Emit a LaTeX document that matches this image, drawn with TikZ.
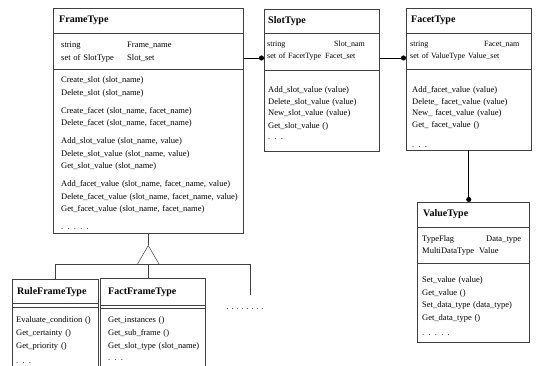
\documentclass[tikz,border=0pt]{standalone}
\usepackage{fontspec}
\setmainfont{Liberation Serif}
\usetikzlibrary{positioning,arrows.meta}

\tikzset{
  classbox/.style={draw=black!75, line width=0.5pt, fill=white, anchor=north west, inner sep=0pt},
  classname/.style={anchor=west, font=\fontsize{10}{12}\selectfont\bfseries, inner sep=0pt},
  members/.style={anchor=base west, font=\fontsize{8.5}{12.5}\selectfont, text width=#1, align=left, inner sep=0pt},
  tightrows/.style={font=\fontsize{8.5}{11.5}\selectfont},
  smallrows/.style={font=\fontsize{8}{11.5}\selectfont},
  link/.style={draw=black!75, line width=0.5pt},
  hasdot/.style={line width=0.9pt, -{Circle[length=5pt]}},
}
\newcommand{\attrrow}[3]{\makebox[#1][l]{#2}#3}

\begin{document}
\begin{tikzpicture}[x=1pt,y=1pt]
    \useasboundingbox (0,0) rectangle (536,-366);
    \clip (0,0) rectangle (536,-366);

    % FrameType
    \node[classbox, minimum width=190pt, minimum height=225pt] (frame) at (53,-8) {};
    \node[classname] (frametitle) at ([xshift=6pt,yshift=-12.5pt]frame.north west) {FrameType};
    \draw[link] ([yshift=-25pt]frame.north west) -- ([yshift=-25pt]frame.north east);
    \draw[link] ([yshift=-61pt]frame.north west) -- ([yshift=-61pt]frame.north east);
    \node[members=180pt] (frameattr) at ([xshift=8pt,yshift=-40pt]frame.north west) {%
\attrrow{66pt}{string}{Frame\_name}\\
\attrrow{66pt}{set of SlotType}{Slot\_set}};
    \node[members=180pt] (frameops) at ([xshift=8pt,yshift=-75pt]frame.north west) {%
Create\_slot (slot\_name)\\
Delete\_slot (slot\_name)\\[5.5pt]
Create\_facet (slot\_name, facet\_name)\\
Delete\_facet (slot\_name, facet\_name)\\[5.5pt]
Add\_slot\_value (slot\_name, value)\\
Delete\_slot\_value (slot\_name, value)\\
Get\_slot\_value (slot\_name)\\[5.5pt]
Add\_facet\_value (slot\_name, facet\_name, value)\\
Delete\_facet\_value (slot\_name, facet\_name, value)\\
Get\_facet\_value (slot\_name, facet\_name)\\[5.5pt]
. . . . .};

    % SlotType
    \node[classbox, minimum width=115pt, minimum height=142pt] (slot) at (264,-9) {};
    \node[classname] (slottitle) at ([xshift=4pt,yshift=-12pt]slot.north west) {SlotType};
    \draw[link] ([yshift=-24pt]slot.north west) -- ([yshift=-24pt]slot.north east);
    \draw[link] ([yshift=-61pt]slot.north west) -- ([yshift=-61pt]slot.north east);
    \node[members=110pt, smallrows] (slotattr) at ([xshift=3pt,yshift=-38pt]slot.north west) {%
\attrrow{67pt}{string}{Slot\_nam}\\
\attrrow{58pt}{set of FacetType}{Facet\_set}};
    \node[members=110pt, tightrows] (slotops) at ([xshift=4pt,yshift=-84pt]slot.north west) {%
Add\_slot\_value (value)\\
Delete\_slot\_value (value)\\
New\_slot\_value (value)\\[1pt]
Get\_slot\_value ()\\
. . .};

    % FacetType
    \node[classbox, minimum width=125pt, minimum height=142pt] (facet) at (406,-8) {};
    \node[classname] (facettitle) at ([xshift=5pt,yshift=-12.5pt]facet.north west) {FacetType};
    \draw[link] ([yshift=-25pt]facet.north west) -- ([yshift=-25pt]facet.north east);
    \draw[link] ([yshift=-61pt]facet.north west) -- ([yshift=-61pt]facet.north east);
    \node[members=120pt, smallrows] (facetattr) at ([xshift=4pt,yshift=-39pt]facet.north west) {%
\attrrow{74pt}{string}{Facet\_nam}\\
\attrrow{58pt}{set of ValueType}{Value\_set}};
    \node[members=120pt, tightrows] (facetops) at ([xshift=6pt,yshift=-85pt]facet.north west) {%
Add\_facet\_value (value)\\
Delete\_ facet\_value (value)\\
New\_ facet\_value (value)\\
Get\_ facet\_value ()\\[9pt]
. . .};

    % ValueType
    \node[classbox, minimum width=112pt, minimum height=140pt] (value) at (417,-202) {};
    \node[classname] (valuetitle) at ([xshift=6pt,yshift=-12pt]value.north west) {ValueType};
    \draw[link] ([yshift=-25pt]value.north west) -- ([yshift=-25pt]value.north east);
    \draw[link] ([yshift=-61pt]value.north west) -- ([yshift=-61pt]value.north east);
    \node[members=106pt, tightrows] (valueattr) at ([xshift=5pt,yshift=-40pt]value.north west) {%
\attrrow{64pt}{TypeFlag}{Data\_type}\\
\attrrow{57pt}{MultiDataType}{Value}};
    \node[members=106pt] (valueops) at ([xshift=5pt,yshift=-81pt]value.north west) {%
Set\_value (value)\\
Get\_value ()\\
Set\_data\_type (data\_type)\\
Get\_data\_type ()\\[3pt]
. . . . .};

    % RuleFrameType
    \node[classbox, minimum width=86pt, minimum height=95pt] (rule) at (12,-279) {};
    \node[classname] (ruletitle) at ([xshift=5pt,yshift=-13pt]rule.north west) {RuleFrameType};
    \draw[link] ([yshift=-24pt]rule.north west) -- ([yshift=-24pt]rule.north east);
    \draw[link] ([yshift=-28pt]rule.north west) -- ([yshift=-28pt]rule.north east);
    \node[members=82pt, font=\fontsize{8.5}{13}\selectfont] (ruleops) at ([xshift=4pt,yshift=-44pt]rule.north west) {%
Evaluate\_condition ()\\
Get\_certainty ()\\
Get\_priority ()\\[2pt]
. . .};

    % FactFrameType
    \node[classbox, minimum width=105pt, minimum height=95pt] (fact) at (100,-278) {};
    \node[classname] (facttitle) at ([xshift=8pt,yshift=-14pt]fact.north west) {FactFrameType};
    \draw[link] ([yshift=-27pt]fact.north west) -- ([yshift=-27pt]fact.north east);
    \draw[link] ([yshift=-30pt]fact.north west) -- ([yshift=-30pt]fact.north east);
    \node[members=100pt, font=\fontsize{8.5}{13}\selectfont] (factops) at ([xshift=8pt,yshift=-45pt]fact.north west) {%
Get\_instances ()\\
Get\_sub\_frame ()\\
Get\_slot\_type (slot\_name)\\[-1pt]
. . .};

    % aggregation links
    \coordinate (slotref) at ([yshift=-49pt]slot.north west);
    \coordinate (facetref) at ([yshift=-50pt]facet.north west);
    \draw[hasdot] (frame.east |- slotref) -- (slotref);
    \draw[hasdot] (slot.east |- facetref) -- (facetref);
    \draw[hasdot] (facet.south) -- (facet.south |- value.north);

    % inheritance
    \coordinate (inherit) at ([yshift=-12pt]frame.south);
    \coordinate (bus) at ([yshift=-19pt]inherit);
    \coordinate (more) at (250,-295);
    \draw[link] (frame.south) -- (inherit);
    \draw[link] (inherit) -- ++(-11,-19) -- ++(22,0) -- cycle;
    \draw[link] (rule.north) |- (bus) -| (more);
    \draw[link] (bus) -- (bus |- fact.north);
    \node[font=\fontsize{8.5}{10}\selectfont] (moretext) at (245,-309) {. . . . . . . .};
\end{tikzpicture}
\end{document}
